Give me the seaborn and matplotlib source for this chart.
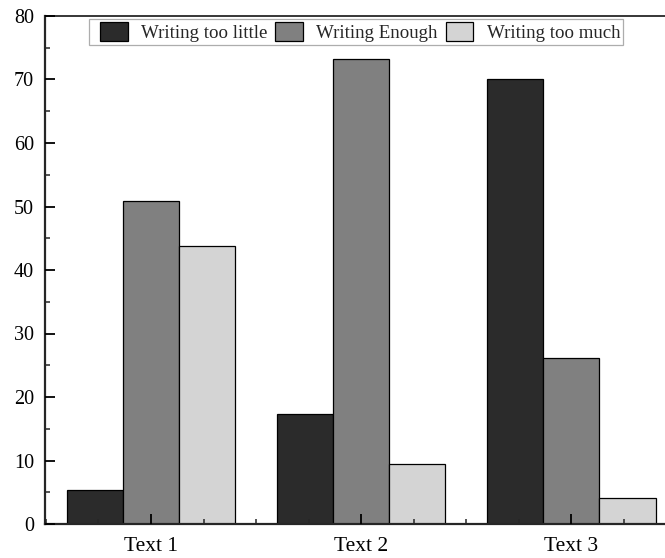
import matplotlib
matplotlib.use("Agg")
import matplotlib.pyplot as plt
from matplotlib.ticker import MultipleLocator
from matplotlib.patches import Rectangle
from matplotlib.legend_handler import HandlerPatch
import seaborn as sns
import pandas as pd

texts = ["Text 1", "Text 2", "Text 3"]
categories = ["Writing too little", "Writing Enough", "Writing too much"]
too_little = [5.3, 17.4, 70.0]
enough = [50.9, 73.2, 26.1]
too_much = [43.8, 9.4, 4.1]
colors = ["#2b2b2b", "#808080", "#d4d4d4"]

rows = []
for cat, vals in zip(categories, [too_little, enough, too_much]):
    for t, v in zip(texts, vals):
        rows.append({"text": t, "category": cat, "value": v})
df = pd.DataFrame(rows)

sns.set_style("ticks")
plt.rcParams["font.family"] = ["Liberation Serif", "DejaVu Serif"]

fig = plt.figure(figsize=(6.65, 5.58), dpi=100)
ax = fig.add_axes([45 / 665, 1 - 524 / 558, 620 / 665, 508 / 558])

sns.barplot(data=df, x="text", y="value", hue="category", order=texts,
            hue_order=categories, palette=colors, width=0.8,
            edgecolor="black", linewidth=0.9, saturation=1, ax=ax)

ax.set_axisbelow(False)
ax.set_ylim(0, 80)
ax.set_xlim(-0.504, 2.445)
ax.yaxis.set_major_locator(MultipleLocator(10))
ax.yaxis.set_minor_locator(MultipleLocator(5))
ax.xaxis.set_minor_locator(MultipleLocator(0.25))
ax.set_xlabel("")
ax.set_ylabel("")

ax.tick_params(axis="both", which="major", direction="in", length=7, width=1.3,
               colors="black")
ax.tick_params(axis="both", which="minor", direction="in", length=3.5, width=1.1)
ax.tick_params(axis="y", which="major", labelsize=14.5, pad=8)
ax.tick_params(axis="x", which="major", labelsize=15.5, pad=9.5)

for side in ["left", "bottom"]:
    ax.spines[side].set_linewidth(1.6)
ax.spines["top"].set_visible(True)
ax.spines["top"].set_linewidth(1.3)
ax.spines["right"].set_visible(False)


def swatch(legend, orig_handle, xdescent, ydescent, width, height, fontsize):
    # square swatch with a little blank lead-in before it
    lead = 0.42 * fontsize
    return Rectangle((-xdescent + lead, -ydescent), width - lead, height)


LEG_FS = 13.6
handles, labels = ax.get_legend_handles_labels()
leg = ax.legend(handles, labels, loc="upper center", bbox_to_anchor=(0.5016, 0.994),
                ncol=3, frameon=True, fancybox=False, fontsize=LEG_FS,
                handlelength=1.9, handleheight=1.16, columnspacing=0.0,
                handletextpad=0.69, borderpad=0.15, borderaxespad=0.0,
                handler_map={Rectangle: HandlerPatch(patch_func=swatch)})
for h in leg.legend_handles:
    h.set_edgecolor("black")
    h.set_linewidth(0.9)
leg.get_frame().set_edgecolor("#999999")
leg.get_frame().set_linewidth(0.9)

fig.savefig("out.png", dpi=100)
